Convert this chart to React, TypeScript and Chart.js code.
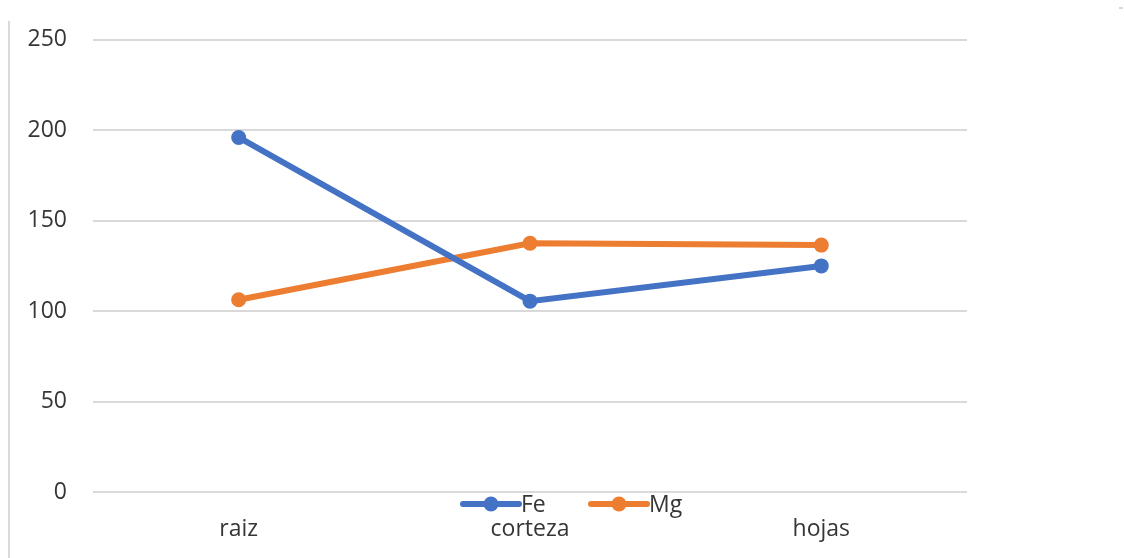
import React, { useEffect, useRef } from "react";
import { Chart, registerables } from "chart.js";

Chart.register(...registerables);

const categories = ["raiz", "corteza", "hojas"];
const feValues = [196, 105.5, 125];
const mgValues = [106.3, 137.5, 136.5];
const yTicks = [0, 50, 100, 150, 200, 250];

const FONT = "'Open Sans', 'Liberation Sans', sans-serif";
const TEXT = "#363636";
const GRID = "#d9d9d9";

const decorPlugin = {
  id: "decor",
  afterDraw(chart: any) {
    const ctx = chart.ctx;
    ctx.save();
    // left border line
    ctx.fillStyle = GRID;
    ctx.fillRect(8, 21, 2, 537);
    ctx.fillRect(1119, 7, 4, 2);
    // custom legend
    const items = chart.data.datasets.map((d: any) => ({ label: d.label, color: d.borderColor }));
    const starts = [463, 591];
    const yc = 504;
    ctx.font = `23px ${FONT}`;
    ctx.textBaseline = "middle";
    ctx.textAlign = "left";
    items.forEach((it: any, i: number) => {
      const x0 = starts[i];
      ctx.strokeStyle = it.color;
      ctx.lineWidth = 6;
      ctx.lineCap = "round";
      ctx.beginPath();
      ctx.moveTo(x0, yc);
      ctx.lineTo(x0 + 56, yc);
      ctx.stroke();
      ctx.fillStyle = it.color;
      ctx.beginPath();
      ctx.arc(x0 + 28, yc, 7.5, 0, Math.PI * 2);
      ctx.fill();
      ctx.fillStyle = TEXT;
      ctx.fillText(it.label, x0 + 58, yc + 1);
    });
    ctx.restore();
  },
};

export default function App() {
  const ref = useRef<HTMLCanvasElement>(null);
  useEffect(() => {
    const chart = new Chart(ref.current!, {
      type: "line",
      data: {
        labels: categories,
        datasets: [
          {
            label: "Fe",
            data: feValues,
            borderColor: "#4472C4",
            backgroundColor: "#4472C4",
            borderWidth: 6,
            pointRadius: 7.5,
            pointHoverRadius: 7.5,
            pointBorderWidth: 0,
            tension: 0,
          },
          {
            label: "Mg",
            data: mgValues,
            borderColor: "#ED7D31",
            backgroundColor: "#ED7D31",
            borderWidth: 6,
            pointRadius: 7.5,
            pointHoverRadius: 7.5,
            pointBorderWidth: 0,
            tension: 0,
          },
        ],
      },
      options: {
        animation: false,
        responsive: true,
        maintainAspectRatio: false,
        layout: { padding: { left: 0, right: 157, top: 37, bottom: 0 } },
        plugins: { legend: { display: false }, tooltip: { enabled: false } },
        scales: {
          x: {
            offset: true,
            grid: { display: false, drawTicks: false },
            border: { display: false },
            ticks: { color: TEXT, font: { family: FONT, size: 23 }, padding: 24 },
            afterFit: (s: any) => {
              s.height = 66;
            },
          },
          y: {
            min: 0,
            max: 250,
            afterBuildTicks: (s: any) => {
              s.ticks = yTicks.map((v) => ({ value: v }));
            },
            grid: { color: GRID, lineWidth: 2, drawTicks: false },
            border: { display: false },
            ticks: { color: TEXT, font: { family: FONT, size: 23 }, padding: 26 },
            afterFit: (s: any) => {
              s.width = 93;
            },
          },
        },
      },
      plugins: [decorPlugin],
    });
    return () => chart.destroy();
  }, []);
  return (
    <div style={{ position: "fixed", left: 0, top: 0, width: 1124, height: 558, background: "#fff" }}>
      <canvas ref={ref} />
    </div>
  );
}
